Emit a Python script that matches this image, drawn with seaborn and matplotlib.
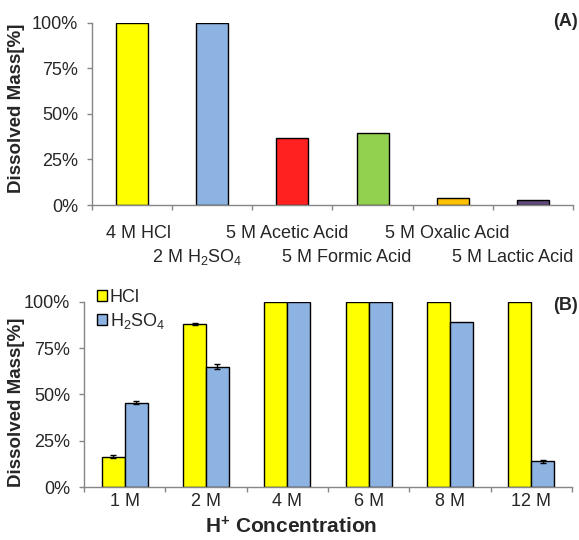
import matplotlib
matplotlib.use("Agg")
import matplotlib.pyplot as plt
import matplotlib.transforms as mtrans
import seaborn as sns
import pandas as pd
import numpy as np

sns.set_style("white")
plt.rcParams['font.family'] = ['Liberation Sans', 'DejaVu Sans']
plt.rcParams['mathtext.fontset'] = 'custom'
plt.rcParams['mathtext.rm'] = 'Liberation Sans'
plt.rcParams['mathtext.it'] = 'Liberation Sans:italic'
plt.rcParams['mathtext.bf'] = 'Liberation Sans:bold'

# ---- Panel A data ----
acid_labels = ["4 M HCl", "2 M H$_2$SO$_4$", "5 M Acetic Acid",
               "5 M Formic Acid", "5 M Oxalic Acid", "5 M Lactic Acid"]
acid_values = [1.00, 1.00, 0.37, 0.395, 0.036, 0.025]
acid_colors = ["#FFFF00", "#8DB3E2", "#FF2020", "#92D050", "#FFC000", "#5F497A"]

# ---- Panel B data ----
conc_labels = ["1 M", "2 M", "4 M", "6 M", "8 M", "12 M"]
hcl_values = [0.163, 0.880, 1.00, 1.00, 1.00, 1.00]
h2so4_values = [0.456, 0.650, 1.00, 1.00, 0.889, 0.138]
hcl_err = [0.008, 0.007, 0.0, 0.0, 0.0, 0.0]
h2so4_err = [0.009, 0.012, 0.0, 0.0, 0.0, 0.008]
series_names = ["HCl", "H$_2$SO$_4$"]
series_colors = ["#FFFF00", "#8DB3E2"]

fig = plt.figure(figsize=(5.79, 5.40), dpi=100)
W, H = 579, 540
def ax_rect(l, t, r, b):
    return [l / W, 1 - b / H, (r - l) / W, (b - t) / H]

tick_fs = 13
ylab_fs = 13.5
xlab_fs = 15
gray = "#868686"
px = 72 / 100  # points per pixel

def offset(dx, dy):
    return mtrans.ScaledTranslation(dx / 100, -dy / 100, fig.dpi_scale_trans)

def style_axis(ax):
    sns.despine(ax=ax, top=True, right=True)
    for s in ("left", "bottom"):
        ax.spines[s].set_color(gray)
        ax.spines[s].set_linewidth(1.0)
    ax.set_ylim(0, 1.0)
    ax.set_yticks([0, 0.25, 0.5, 0.75, 1.0])
    ax.set_yticklabels(["0%", "25%", "50%", "75%", "100%"], fontsize=tick_fs)
    ax.tick_params(axis='y', which='both', left=True, length=5 * px, width=1,
                   color=gray, pad=9 * px)
    ax.set_ylabel("Dissolved Mass[%]", fontsize=ylab_fs, fontweight='bold')
    ax.yaxis.label.set_verticalalignment('center')
    ax.set_xlim(-0.5, 5.5)
    ax.set_xticks(np.arange(-0.5, 6.0, 1.0), minor=False)
    ax.tick_params(axis='x', which='major', bottom=True, length=5 * px, width=1,
                   color=gray, labelbottom=False)

# ---- Panel A ----
axA = fig.add_axes(ax_rect(92, 22.7, 573, 205))
dfA = pd.DataFrame({"acid": acid_labels, "val": acid_values})
sns.barplot(data=dfA, x="acid", y="val", hue="acid", palette=acid_colors,
            order=acid_labels, hue_order=acid_labels, width=0.40, legend=False,
            saturation=1, edgecolor="black", linewidth=1.0, ax=axA)
style_axis(axA)
axA.yaxis.set_label_coords(-(92 - 17) / 481, 1 - (108 - 22.7) / 182.3)
axA.set_xlabel("")
axA.set_xticks(range(6), minor=True)
axA.set_xticklabels(acid_labels, minor=True, fontsize=tick_fs)
axA.tick_params(axis='x', which='minor', length=0, pad=20 * px, labelbottom=True)
shifts = [(6, 0), (-15, 22), (-5, 0), (-26, 24), (-5, 0), (-20, 24)]
for lbl, (dx, dy) in zip(axA.get_xticklabels(minor=True), shifts):
    lbl.set_transform(lbl.get_transform() + offset(dx, dy))
axA.text(578 / W, 1 - 22 / H, "(A)", transform=fig.transFigure, ha="right",
         va="center", fontsize=13, fontweight="bold")

# ---- Panel B ----
axB = fig.add_axes(ax_rect(84, 301.7, 572, 487))
dfB = pd.DataFrame({
    "conc": conc_labels * 2,
    "val": hcl_values + h2so4_values,
    "series": [series_names[0]] * 6 + [series_names[1]] * 6,
})
sns.barplot(data=dfB, x="conc", y="val", hue="series", palette=series_colors,
            order=conc_labels, hue_order=series_names, width=0.565, saturation=1,
            edgecolor="black", linewidth=1.0, ax=axB)
style_axis(axB)
axB.yaxis.set_label_coords(-(84 - 17) / 488, 1 - (402 - 301.7) / 185.3)
errs = hcl_err + h2so4_err
vals = hcl_values + h2so4_values
bars = list(axB.patches)[:12]
for p, v, e in zip(bars, vals, errs):
    if e > 0:
        axB.errorbar(p.get_x() + p.get_width() / 2, v, yerr=e, color="black",
                     capsize=2.5, elinewidth=1.0, capthick=1.0, fmt="none")
axB.set_xticks(range(6), minor=True)
axB.set_xticklabels(conc_labels, minor=True, fontsize=tick_fs)
axB.tick_params(axis='x', which='minor', length=0, pad=6 * px, labelbottom=True)
axB.set_xlabel("H$^{\\mathbf{+}}$ Concentration", fontsize=xlab_fs, fontweight='bold')
axB.xaxis.label.set_verticalalignment('center')
axB.xaxis.set_label_coords((291 - 84) / 488, -(527 - 487) / 185.3)
axB.text(578 / W, 1 - 305 / H, "(B)", transform=fig.transFigure, ha="right",
         va="center", fontsize=13, fontweight="bold")
leg = axB.legend(loc="upper left", bbox_to_anchor=(97 / W, 1 - 289 / H),
                 bbox_transform=fig.transFigure, frameon=False, fontsize=tick_fs,
                 handlelength=0.55, handleheight=0.55, handletextpad=0.15,
                 labelspacing=0.25, borderpad=0.0, borderaxespad=0)

fig.savefig("out.png", dpi=100)
